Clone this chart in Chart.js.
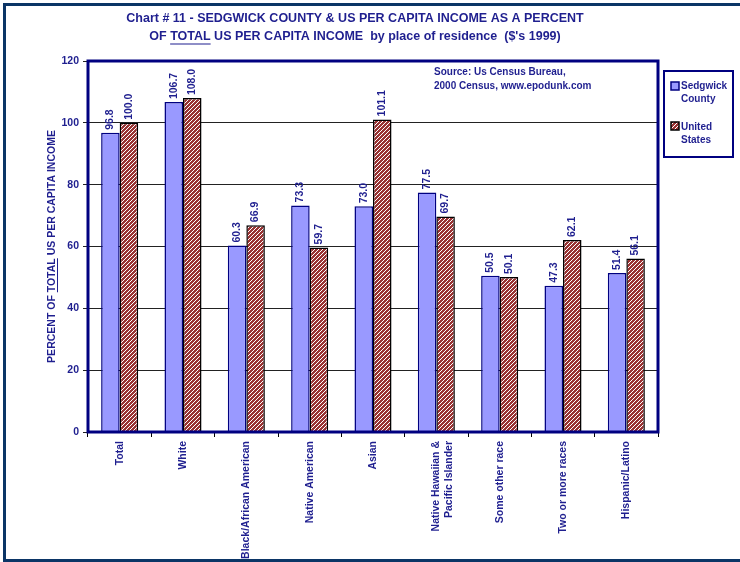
<!DOCTYPE html>
<html lang="en">
<head>
<meta charset="UTF-8">
<title>Chart # 11</title>
<script src="https://cdn.jsdelivr.net/npm/chart.js@4.4.0/dist/chart.umd.min.js"></script>
<style>
  html, body { margin: 0; padding: 0; background: #fff; }
  #wrap { position: relative; width: 740px; height: 562px; }
</style>
</head>
<body>
<div id="wrap"><canvas id="chart" width="740" height="562"></canvas></div>
<script>
// data
const categories = ['Total', 'White', 'Black/African American', 'Native American', 'Asian',
  ['Native Hawaiian &', 'Pacific Islander'], 'Some other race', 'Two or more races', 'Hispanic/Latino'];
const sedgwick = [96.8, 106.7, 60.3, 73.3, 73.0, 77.5, 50.5, 47.3, 51.4];
const unitedStates = [100.0, 108.0, 66.9, 59.7, 101.1, 69.7, 50.1, 62.1, 56.1];
const yTicks = [0, 20, 40, 60, 80, 100, 120];

const navy = '#1f1f8f';
const font = '"Liberation Sans", Arial, sans-serif';

// hatched fill for the US bars
function hatch() {
  const c = document.createElement('canvas');
  c.width = 4; c.height = 4;
  const g = c.getContext('2d');
  g.fillStyle = '#993333';
  g.fillRect(0, 0, 4, 4);
  g.fillStyle = '#ffffff';
  [[0, 3], [1, 2], [2, 1], [3, 0]].forEach(p => g.fillRect(p[0], p[1], 1, 1));
  return g.createPattern(c, 'repeat');
}
const usFill = hatch();

// page frame, title, axis title, source note, legend
const decor = {
  id: 'decor',
  beforeDraw(chart) {
    const ctx = chart.ctx;
    ctx.save();
    ctx.fillStyle = '#0b3566';
    ctx.fillRect(3, 3, 740, 3);
    ctx.fillRect(3, 3, 3, 559);
    ctx.fillRect(3, 559, 740, 3);
    ctx.restore();
  },
  afterDraw(chart) {
    const ctx = chart.ctx;
    const a = chart.chartArea;
    ctx.save();
    // plot frame
    ctx.strokeStyle = '#000080';
    ctx.lineWidth = 3;
    ctx.strokeRect(a.left, a.top, a.right - a.left, a.bottom - a.top);

    ctx.fillStyle = navy;
    ctx.strokeStyle = navy;
    ctx.textBaseline = 'middle';

    // title
    ctx.font = 'bold 12.5px ' + font;
    ctx.textAlign = 'center';
    ctx.fillText('Chart # 11 - SEDGWICK COUNTY & US PER CAPITA INCOME AS A PERCENT', 355, 19);
    const p1 = 'OF ', p2 = 'TOTAL', p3 = ' US PER CAPITA INCOME  by place of residence  ($\'s 1999)';
    const w = ctx.measureText(p1 + p2 + p3).width;
    let x0 = 355 - w / 2;
    ctx.textAlign = 'left';
    ctx.fillText(p1 + p2 + p3, x0, 37);
    const u0 = x0 + ctx.measureText(p1).width;
    ctx.lineWidth = 1.2;
    ctx.beginPath();
    ctx.moveTo(u0, 44); ctx.lineTo(u0 + ctx.measureText(p2).width, 44);
    ctx.stroke();

    // y axis title
    ctx.save();
    ctx.translate(52, (a.top + a.bottom) / 2);
    ctx.rotate(-Math.PI / 2);
    ctx.font = 'bold 10.5px ' + font;
    const q1 = 'PERCENT OF ', q2 = 'TOTAL', q3 = ' US PER CAPITA INCOME';
    const qw = ctx.measureText(q1 + q2 + q3).width;
    ctx.fillText(q1 + q2 + q3, -qw / 2, 0);
    const v0 = -qw / 2 + ctx.measureText(q1).width;
    ctx.lineWidth = 1;
    ctx.beginPath();
    ctx.moveTo(v0, 5.5); ctx.lineTo(v0 + ctx.measureText(q2).width, 5.5);
    ctx.stroke();
    ctx.restore();

    // source
    ctx.font = 'bold 10px ' + font;
    ctx.fillText('Source: Us Census Bureau,', 434, 72);
    ctx.fillText('2000 Census, www.epodunk.com', 434, 86);

    // legend
    ctx.strokeStyle = '#000080';
    ctx.lineWidth = 2;
    ctx.strokeRect(664, 71, 69, 86);
    ctx.fillStyle = '#9999ff';
    ctx.fillRect(671, 82, 8, 8);
    ctx.lineWidth = 1.5;
    ctx.strokeRect(671, 82, 8, 8);
    ctx.fillStyle = usFill;
    ctx.fillRect(671, 122, 8, 8);
    ctx.strokeStyle = '#000';
    ctx.strokeRect(671, 122, 8, 8);
    ctx.fillStyle = navy;
    ctx.fillText('Sedgwick', 681, 86);
    ctx.fillText('County', 681, 99);
    ctx.fillText('United', 681, 127);
    ctx.fillText('States', 681, 140);
    ctx.restore();
  },
  afterDatasetsDraw(chart) {
    const ctx = chart.ctx;
    ctx.save();
    ctx.font = 'bold 10.5px ' + font;
    ctx.fillStyle = navy;
    ctx.textAlign = 'left';
    ctx.textBaseline = 'middle';
    chart.data.datasets.forEach((ds, i) => {
      chart.getDatasetMeta(i).data.forEach((bar, j) => {
        ctx.save();
        ctx.translate(bar.x, bar.y - 3);
        ctx.rotate(-Math.PI / 2);
        ctx.fillText(ds.data[j].toFixed(1), 0, 0);
        ctx.restore();
      });
    });
    ctx.restore();
  }
};

new Chart(document.getElementById('chart'), {
  type: 'bar',
  data: {
    labels: categories,
    datasets: [
      { label: 'Sedgwick County', data: sedgwick, backgroundColor: '#9999ff', borderColor: '#000080', borderWidth: 1.5 },
      { label: 'United States', data: unitedStates, backgroundColor: usFill, borderColor: '#000', borderWidth: 1.5 }
    ]
  },
  options: {
    responsive: false,
    animation: false,
    categoryPercentage: 0.585,
    barPercentage: 1,
    layout: { padding: { top: 61, right: 82, left: 0, bottom: 0 } },
    plugins: { legend: { display: false }, tooltip: { enabled: false } },
    scales: {
      x: {
        afterFit(s) { s.height = 130; },
        grid: { offset: true, drawOnChartArea: false, color: '#000', tickLength: 5 },
        border: { display: false },
        ticks: { color: navy, font: { family: font, size: 10.5, weight: 'bold' }, minRotation: 90, maxRotation: 90, autoSkip: false, padding: 4 }
      },
      y: {
        min: 0, max: 120,
        afterFit(s) { s.width = 88; },
        afterBuildTicks(s) { s.ticks = yTicks.map(v => ({ value: v })); },
        grid: { color: '#222', tickLength: 5 },
        border: { display: false },
        ticks: { color: navy, font: { family: font, size: 10.5, weight: 'bold' }, padding: 4 }
      }
    }
  },
  plugins: [decor]
});
</script>
</body>
</html>
